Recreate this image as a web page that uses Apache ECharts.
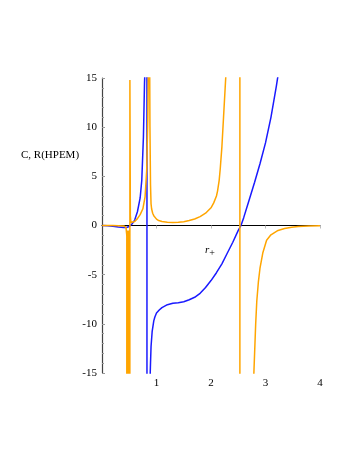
<!DOCTYPE html>
<html>
<head>
<meta charset="utf-8">
<style>
  body,
  html {
    overflow: hidden;
    width: 100%;
    height: 100%;
    margin: 0;
    padding: 0;
    background: #fff;
  }
  .chart-wrapper {
    position: relative;
    width: 349px;
    height: 451px;
  }
</style>
</head>
<body>
<div id="chart-wrapper" class="chart-wrapper"></div>

<script src="https://cdn.jsdelivr.net/npm/echarts@6/dist/echarts.min.js"></script>

<script>
  // heat capacity C (blue)
  const cR = [0, 0.1, 0.2, 0.3, 0.4, 0.45, 0.5, 0.55, 0.6, 0.65, 0.7, 0.73, 0.76, 0.78, 0.79, 0.81, 0.82,
    0.83, 0.87, 0.885, 0.89, 0.9, 0.92, 0.95, 0.97, 1.0, 1.05, 1.1, 1.2, 1.3, 1.4, 1.5, 1.6, 1.7, 1.8, 1.9, 2.0, 2.1, 2.2,
    2.3, 2.4, 2.5, 2.55, 2.6, 2.7, 2.8, 2.9, 3.0, 3.1, 3.2, 3.25];
  const cVal = [0, -0.03, -0.08, -0.15, -0.2, -0.2, -0.1, 0.15, 0.55, 1.4, 2.8, 4.6, 9.0, 14.5, 16, 40, 400,
    -400, -22, -15, -14, -12.3, -10.8, -9.7, -9.3, -8.9, -8.6, -8.35, -8.05, -7.9, -7.85, -7.75, -7.55, -7.3, -6.9, -6.3, -5.6, -4.8, -3.9,
    -2.8, -1.7, -0.5, 0, 0.8, 2.6, 4.4, 6.3, 8.4, 11.0, 14.2, 16];

  // scalar curvature R(HPEM) (orange)
  const rR = [0, 0.1, 0.2, 0.3, 0.4, 0.44, 0.455, 0.46, 0.468, 0.476, 0.484, 0.492, 0.5, 0.505, 0.512, 0.52, 0.53, 0.55,
    0.6, 0.65, 0.7, 0.75, 0.79, 0.82, 0.84, 0.85, 0.86, 0.875, 0.88, 0.89, 0.9, 0.91, 0.93, 0.95, 1.0, 1.04, 1.1, 1.2,
    1.3, 1.4, 1.5, 1.6, 1.7, 1.8, 1.9, 2.0, 2.05, 2.1, 2.12, 2.15, 2.17, 2.2, 2.23, 2.26, 2.28, 2.35, 2.45, 2.525,
    2.535, 2.62, 2.72, 2.78, 2.8, 2.82, 2.84, 2.87, 2.9, 2.95, 3.02, 3.1, 3.23, 3.35, 3.48, 3.6, 3.8, 4.0];
  const rVal = [0, 0, -0.01, -0.02, -0.05, -0.2, -1, -300, -0.5, -300, -0.5, -300, -0.5, -300, 14.8, 1.0, 0.3, 0.17,
    0.4, 0.7, 1.1, 1.7, 2.9, 5.6, 10.7, 15.5, 300, 16, 10, 4.2, 2.2, 1.7, 1.25, 1.0, 0.65, 0.5, 0.4, 0.33,
    0.3, 0.32, 0.38, 0.5, 0.66, 0.9, 1.25, 1.8, 2.3, 3.0, 3.5, 4.6, 5.8, 8.0, 11, 14, 16, 40, 150, 3000,
    -3000, -150, -40, -16, -13, -10, -7.7, -5.7, -4.3, -2.8, -1.5, -0.95, -0.5, -0.3, -0.17, -0.1, -0.05, -0.03];

  const xTicks = [1, 2, 3, 4];
  const serif = "Liberation Serif";

  const chartDom = document.getElementById("chart-wrapper");
  const chart = echarts.init(chartDom, null, { renderer: "canvas", width: 349, height: 451 });

  const option = {
    animation: false,
    backgroundColor: "#fff",
    grid: { left: 102, right: 29, top: 78, bottom: 78 },
    graphic: [
      {
        type: "text",
        left: 21,
        top: 150,
        style: { text: "C, R(HPEM)", font: "11px " + serif, fill: "#000" },
      },
      {
        type: "text",
        left: 205,
        top: 245,
        style: {
          text: "{i|r}{s|+}",
          rich: {
            i: { fontFamily: serif, fontStyle: "italic", fontSize: 11, fill: "#000" },
            s: { fontFamily: serif, fontSize: 10, fill: "#000", padding: [6, 0, 0, 0] },
          },
        },
      },
    ],
    xAxis: {
      type: "value",
      min: 0,
      max: 4,
      interval: 1,
      axisLine: { onZero: true, lineStyle: { color: "#000", width: 1.2 } },
      axisTick: { show: true, length: 3, lineStyle: { color: "#bbb" } },
      axisLabel: {
        fontFamily: serif,
        fontSize: 11,
        color: "#000",
        margin: 5,
        showMinLabel: false,
        formatter: (v) => (xTicks.includes(v) ? String(v) : ""),
      },
      splitLine: { show: false },
    },
    yAxis: {
      type: "value",
      min: -15,
      max: 15,
      interval: 5,
      axisLine: { onZero: false, lineStyle: { color: "#444", width: 1.2 } },
      axisTick: { show: true, inside: true, length: 3, lineStyle: { color: "#999" } },
      minorTick: { show: true, splitNumber: 5, length: 2, lineStyle: { color: "#999" } },
      axisLabel: { fontFamily: serif, fontSize: 11, color: "#000", margin: 5 },
      splitLine: { show: false },
    },
    series: [
      {
        name: "C",
        type: "line",
        data: cR.map((r, i) => [r, cVal[i]]),
        showSymbol: false,
        clip: true,
        lineStyle: { color: "#1a1aff", width: 1.5 },
      },
      {
        name: "R(HPEM)",
        type: "line",
        data: rR.map((r, i) => [r, rVal[i]]),
        showSymbol: false,
        clip: true,
        lineStyle: { color: "#ffa500", width: 1.5 },
      },
    ],
  };
  chart.setOption(option);
</script>
</body>
</html>
